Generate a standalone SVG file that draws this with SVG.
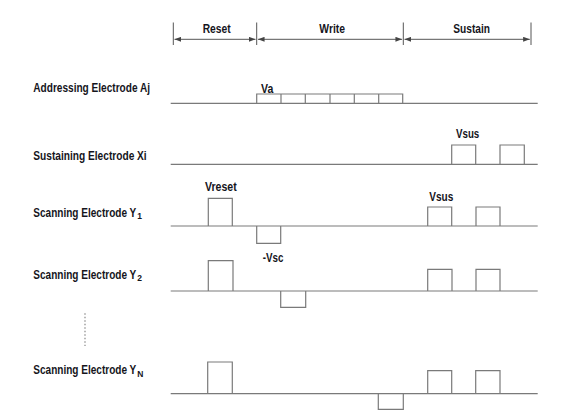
<svg xmlns="http://www.w3.org/2000/svg" width="588" height="420" viewBox="0 0 588 420">
<style>
.t{font-family:"Liberation Sans",Arial,sans-serif;font-weight:bold;font-size:12.5px;fill:#15151c}
.w{fill:none;stroke:#7a7a7a;stroke-width:1.2}
.h{fill:none;stroke:#555;stroke-width:1}
</style>
<defs>
<marker id="ar" viewBox="0 0 8 6" refX="8" refY="3" markerWidth="7" markerHeight="5" markerUnits="userSpaceOnUse" orient="auto-start-reverse">
<path d="M0,0 L8,3 L0,6 Z" fill="#444"/>
</marker>
</defs>
<rect width="588" height="420" fill="#fff"/>
<g id="header">
<path class="h" d="M173.3,22.5V45 M256.7,22.5V45 M403.3,22.5V45 M531,22.5V45"/>
<g id="connectors">
<line class="h" x1="174.5" y1="39.3" x2="255.5" y2="39.3" marker-start="url(#ar)" marker-end="url(#ar)"/>
<line class="h" x1="257.9" y1="39.3" x2="402.1" y2="39.3" marker-start="url(#ar)" marker-end="url(#ar)"/>
<line class="h" x1="404.5" y1="39.3" x2="529.8" y2="39.3" marker-start="url(#ar)" marker-end="url(#ar)"/>
</g>
<text class="t" x="202.7" y="33.3" textLength="28" lengthAdjust="spacingAndGlyphs">Reset</text>
<text class="t" x="319.3" y="33.3" textLength="25.7" lengthAdjust="spacingAndGlyphs">Write</text>
<text class="t" x="453.3" y="33.3" textLength="36.7" lengthAdjust="spacingAndGlyphs">Sustain</text>
</g>
<g id="addressing">
<text class="t" x="33.3" y="91.7" textLength="116.7" lengthAdjust="spacingAndGlyphs">Addressing Electrode Aj</text>
<path class="w" d="M170.7,103.3H537.7 M256.7,103.3V94H402.7V103.3"/>
<path class="w" d="M281,94V103.3 M305.3,94V103.3 M330,94V103.3 M354.3,94V103.3 M378.7,94V103.3"/>
<text class="t" x="261" y="92.5" textLength="12.3" lengthAdjust="spacingAndGlyphs">Va</text>
</g>
<g id="sustaining">
<text class="t" x="33.3" y="160" textLength="113.4" lengthAdjust="spacingAndGlyphs">Sustaining Electrode Xi</text>
<path class="w" d="M170.7,164.3H537.7 M451.7,164.3V145H475.7V164.3 M500,164.3V145H524.3V164.3"/>
<text class="t" x="456" y="138.3" textLength="23.3" lengthAdjust="spacingAndGlyphs">Vsus</text>
</g>
<g id="scanY1">
<text class="t" x="33.3" y="217.3">
<tspan textLength="103" lengthAdjust="spacingAndGlyphs">Scanning Electrode Y</tspan><tspan font-size="8.5" dx="1" dy="2">1</tspan></text>
<path class="w" d="M170.7,226H537.7 M208.3,226V198.3H232.3V226 M256.7,226V243.3H280.7V226 M427.7,226V207H451.7V226 M476,226V207H500V226"/>
<text class="t" x="205" y="191" textLength="31.7" lengthAdjust="spacingAndGlyphs">Vreset</text>
<text class="t" x="429.3" y="201" textLength="24" lengthAdjust="spacingAndGlyphs">Vsus</text>
</g>
<g id="scanY2">
<text class="t" x="33.3" y="279.3">
<tspan textLength="103" lengthAdjust="spacingAndGlyphs">Scanning Electrode Y</tspan><tspan font-size="8.5" dx="1" dy="2">2</tspan></text>
<path class="w" d="M170.7,291H537.7 M208.3,291V260.7H233V291 M280.7,291V307.3H305.7V291 M427.7,291V269.3H452V291 M476,291V269.3H500V291"/>
<text class="t" x="262.7" y="261.7" textLength="20.7" lengthAdjust="spacingAndGlyphs">-Vsc</text>
</g>
<g id="dots">
<line x1="85" y1="313.3" x2="85" y2="346" stroke="#888" stroke-width="1.2" stroke-dasharray="1.5,2"/>
</g>
<g id="scanYN">
<text class="t" x="33.3" y="374">
<tspan textLength="103" lengthAdjust="spacingAndGlyphs">Scanning Electrode Y</tspan><tspan font-size="8.5" dx="1" dy="2.5">N</tspan></text>
<path class="w" d="M170.7,393.7H537.7 M207.7,393.7V362H232.3V393.7 M378.3,393.7V409.3H403.3V393.7 M427.7,393.7V370.7H451.7V393.7 M475.7,393.7V370.7H500V393.7"/>
</g>
</svg>
